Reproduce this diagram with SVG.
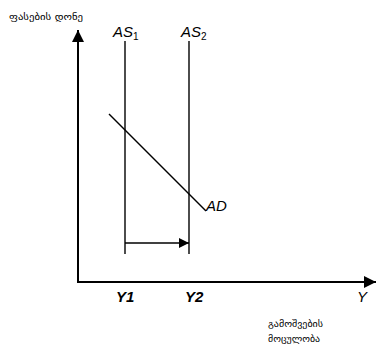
<svg xmlns="http://www.w3.org/2000/svg" width="376" height="349" viewBox="0 0 376 349">
<style>
.axis{stroke:#000;stroke-width:2;fill:none}
.line{stroke:#000;stroke-width:1.4;fill:none}
.lbl{font-family:"Liberation Sans",Arial,sans-serif;font-style:italic;font-size:15px;fill:#000}
.sub{font-style:normal;font-size:10px}
.geo{font-family:"DejaVu Sans","Noto Sans",sans-serif;font-size:9px;fill:#000}
</style>
<defs>
<marker id="ah" viewBox="0 0 10 10" refX="10" refY="5" markerWidth="10" markerHeight="10" markerUnits="userSpaceOnUse" orient="auto">
<path d="M0,0 L10,5 L0,10 Z" fill="#000"/>
</marker>
<marker id="axh" viewBox="0 0 12 12" refX="12" refY="6" markerWidth="12" markerHeight="12" markerUnits="userSpaceOnUse" orient="auto">
<path d="M0,0 L12,6 L0,12 Z" fill="#000"/>
</marker>
</defs>
<g id="axes">
<line class="axis" x1="78" y1="282" x2="78" y2="30" marker-end="url(#axh)"/>
<line class="axis" x1="77" y1="282" x2="376" y2="282" marker-end="url(#axh)"/>
</g>
<g id="as1">
<line class="line" x1="125" y1="41" x2="125" y2="254"/>
<text class="lbl" x="113" y="37">AS<tspan class="sub" dy="3">1</tspan></text>
</g>
<g id="as2">
<line class="line" x1="189" y1="41" x2="189" y2="254"/>
<text class="lbl" x="181" y="37">AS<tspan class="sub" dy="3">2</tspan></text>
</g>
<g id="ad">
<line class="line" x1="109" y1="114" x2="206" y2="211"/>
<text class="lbl" x="206" y="211">AD</text>
</g>
<g id="connectors">
<line class="line" x1="125" y1="243" x2="189" y2="243" marker-end="url(#ah)"/>
</g>
<g id="labels">
<text class="lbl" x="116" y="302" font-weight="bold" font-size="14">Y1</text>
<text class="lbl" x="185" y="302" font-weight="bold" font-size="14">Y2</text>
<text class="lbl" x="357" y="302" font-size="15">Y</text>
<text class="geo" x="9" y="20" textLength="74" lengthAdjust="spacingAndGlyphs">ფასების დონე</text>
<text class="geo" x="268" y="327" textLength="55" lengthAdjust="spacingAndGlyphs">გამოშვების</text>
<text class="geo" x="268" y="342" textLength="52" lengthAdjust="spacingAndGlyphs">მოცულობა</text>
</g>
</svg>
